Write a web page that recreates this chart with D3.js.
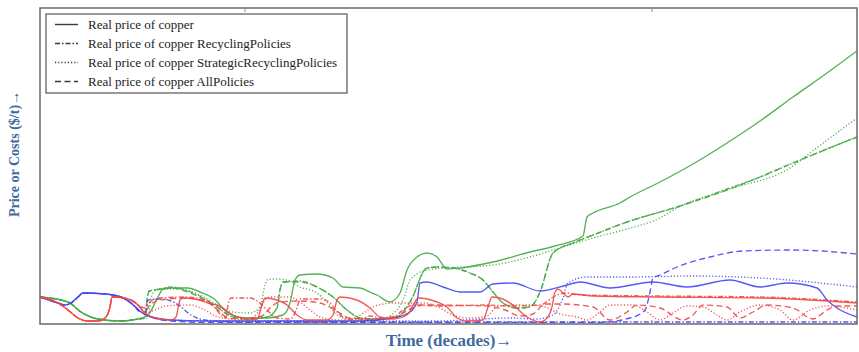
<!DOCTYPE html>
<html>
<head>
<meta charset="utf-8">
<script src="https://cdn.jsdelivr.net/npm/d3@7"></script>
<style>
  html, body { margin: 0; padding: 0; background: #fff; }
  svg { display: block; }
</style>
</head>
<body>
<svg id="chart" width="859" height="352"></svg>
<script>
// Time in years from start of run, price in k$/t (unlabelled axes)
const seriesNames = [
  "Real price of copper",
  "Real price of copper RecyclingPolicies",
  "Real price of copper StrategicRecyclingPolicies",
  "Real price of copper AllPolicies"
];
const xTicks = [51.25, 153];

// ---- green: copper price ----
const greenStart = [[0,13.5],[7,11],[10.25,6],[14.5,2.5],[20.25,1.5],[24.5,2.5]];
const greenBase = [[0,13.5],[7,11],[10.25,6],[14.5,2.5],[20.25,1.5],[24.5,2.5],[27,4.5],[29.5,13.5],[30.75,17.5],[32.75,18],[37,18],[40,16],[43.25,13],[46.75,6],[49.25,3.5],[52.5,3],[56.75,3],[60.75,4.5],[62.5,10.5],[63.75,22],[65,24.5],[69.25,25],[73.25,23],[75.75,18.5],[80,18],[82.5,16],[84.25,14.5],[87.5,11],[90,15.5],[91.75,27],[94.25,33.5],[96.75,35.5],[99.25,33.5],[101.75,27.5],[105,28],[113.25,31],[122.5,36],[128.75,39],[135.75,44],[136.75,53.5],[138.25,55.5],[145,60.5],[147.5,63.5],[155,71],[163.25,80],[171.75,90.5],[180,101.5],[188.25,113.5],[196.75,125.5],[204.25,136.5]];
const greenAllTail = [[26.25,3],[26.75,12],[27.25,16],[30,17.5],[32.75,18],[37,16],[41.25,12],[44.25,8.5],[48.25,3.5],[52.5,2.5],[56.75,3.5],[59.25,8],[60,17],[60.75,21],[65,21],[69.25,18.5],[73.25,13.5],[76.75,7],[80,3],[82.5,2.5],[88.75,3],[92.5,11],[96.75,28],[99.25,28.5],[103.25,28],[107.5,25.5],[110.75,22],[113.25,16],[115.75,10.5],[119.25,8],[122.5,8.5],[125,16],[128.25,35.5],[133.25,40.5],[138.25,44.5],[146.75,51],[159.25,58.5],[171.75,67],[180,73.5],[188.25,80.5],[196.75,87.5],[204.25,93.5]];
const greenRecyclingTail = [[26.25,3],[26.75,12.5],[27.25,16.5],[30,17.5],[32.75,18.5],[37,16.5],[41.25,12.5],[44.25,8.5],[48.25,3.5],[52.5,2.5],[56.75,3.5],[59.25,8],[60,17],[60.75,21],[65,21.5],[69.25,18.5],[73.25,13.5],[76.75,7],[80,3],[82.5,2.5],[88.75,3],[92.5,11],[96.75,28],[99.25,28.5],[103.25,28],[107.5,25.5],[110.75,22],[113.25,16],[115.75,10.5],[119.25,8],[122.5,8.5],[125,16],[128.25,35.5],[133.25,40.5],[138.25,44.5],[146.75,51],[159.25,58.5],[171.75,67.5],[180,73.5],[188.25,80.5],[196.75,87.5],[204.25,93.5]];
const greenStrategicTail = [[26.75,3],[28,14.5],[29,17],[33.75,17.5],[40,14.5],[44.25,9.5],[48.25,6],[52.5,5.5],[55,8.5],[56.25,19.5],[56.75,22],[58.25,22.5],[61.75,22],[65,18.5],[69.25,15.5],[71.75,11],[74.25,4.5],[77.5,2.5],[85,2.5],[88.75,6],[91.25,14.5],[92.5,22],[96.75,27],[101.75,28],[113.25,29.5],[122.5,33.5],[128.25,37],[138.25,43],[146.75,47.5],[155,53],[159.25,58],[171.75,67],[188.25,79],[192.5,85.5],[204.25,103]];

// ---- blue ----
const blueStart = [[0,13.5],[4.5,10.5],[6.25,9.5],[7.75,10.5],[9.5,13.5],[10.75,15.5],[16.25,15],[20.25,13.5],[22.75,10.5],[25.25,6]];
const blueBaseTail = [[27.75,3.5],[32.75,2],[41.25,1.5],[80,1.5],[88.25,3],[92.5,6],[94.25,11],[95,20.5],[96.75,21],[100.75,18.5],[105,16],[110,16],[113.25,20],[118.25,20.5],[125,16.5],[131.75,19.5],[135,21],[142.5,18],[153.25,21],[161.75,18.5],[172.5,22],[180,18.5],[186.75,20.5],[194.25,18],[196.75,12],[199.25,8],[204.25,3.5]];
const blueRecyclingTail = [[26.5,6.5],[27,12],[30,12.5],[32.75,11.5],[35,9],[37,5.5],[41.25,2],[50,1],[120,1],[160,1],[204.25,1]];
const blueStrategicTail = [[27.75,3.5],[32.75,2],[41.25,1.5],[100,1.5],[110,2.5],[118,3],[124,2.5],[128.25,4.5],[130.75,13],[132,20.5],[136.75,23.5],[146.75,23.5],[163.25,24],[180,23],[204.25,18.5]];
const blueAllTail = [[27.75,3.5],[32.75,1.5],[41.25,0.8],[140,0.8],[147.5,3],[151.25,7],[152.5,16],[153.25,23],[155,24.5],[159.25,28.5],[167.5,33.5],[175.75,36.5],[188.25,37],[204.25,35]];

// ---- red ----
const redStart = [[0,13.5],[4.5,10.5],[7,7],[9.5,3],[12,1.5],[14.5,1.5],[16.25,3],[17.5,8.5],[18,13.5],[18.75,13.5],[22.75,12],[24.5,9.5]];
const redBaseTail = [[26.25,5.5],[28.75,3],[32.75,2],[34,3.5],[35,12],[35.75,13],[38.75,12.5],[42,10.5],[44.25,9.5],[48.25,4.5],[52.5,2.5],[54.25,2.5],[55.5,9.5],[56.25,13],[59.25,12],[61.75,9.5],[64.25,4.5],[66.75,2],[71.75,2],[73.25,4.5],[74.25,12],[75,13.5],[79.25,12],[82.5,8],[85,3.5],[88.25,2.5],[91.75,4.5],[93.75,11],[94.5,13],[99.25,11],[101.75,8.5],[104.25,3],[106.75,1.5],[110.75,2],[112,8.5],[113,13.5],[115,13],[118.25,9.5],[121.75,3.5],[125,1],[126.75,3],[128,8.5],[128.75,16],[129.5,17.5],[130.75,15.5],[132,13.5],[133.25,15],[138.25,14],[155,13.5],[180,13],[204.25,10.5]];
const redRecyclingTail = [[26.25,8],[27.5,11],[30,13],[36.25,13.5],[41.25,12],[43.75,8],[45.5,4],[46.5,3],[47,9.5],[47.75,13],[52.5,13],[55,10.5],[56.75,7],[59.25,3],[62.5,2.5],[64.25,8],[65,12.5],[70,12.5],[72.5,10.5],[74.25,6],[76.25,3],[80,2],[82.5,4],[85,3],[88.75,4],[91.25,8],[93.75,9.5],[100,9],[111.75,9.5],[117.5,9],[125,9.5],[128.75,14],[131.25,15.5],[135,14.5],[155,14],[180,13.5],[204.25,11]];
const redStrategicTail = [[26.25,5.5],[28.75,7],[31.25,9],[37.5,9.5],[41.25,7],[43.75,4],[47.5,2.5],[52.5,2],[54.5,6],[56.25,12],[57.5,13.5],[62.5,13.5],[65,11],[67.5,7],[70,3.5],[75,2],[78.75,3],[81.25,6],[83.75,9],[88.75,10.5],[96.25,10.5],[100,8],[103.75,4],[107.5,3],[111.75,4],[114.25,8.5],[117.5,9.5],[122.5,9.5],[126.25,8.5],[130,5],[134.25,3.5],[136.75,2],[140,6],[142.5,9.5],[148.25,9.5],[151.75,6],[155,2],[158.25,5.5],[161.75,9],[165.75,8.5],[169.25,4.5],[171.75,2],[175,6],[180,9.5],[185,7],[188.25,2],[192.5,7],[196.75,9],[204.25,7]];
const redAllTail = [[26.25,6.5],[27.5,9.5],[30,12],[36.25,13],[41.25,11.5],[44.5,7],[47,3],[50,2.5],[52.5,3],[55.5,4],[58,9],[60,11],[65,11.5],[70,10.5],[73.75,7],[77.5,3],[83.75,2.5],[88.75,3.5],[92.5,7.5],[96.25,9.5],[111.75,9],[116.25,7],[120,4],[123.25,5],[126.25,10],[130,10],[138.25,8.5],[142.5,2],[146.75,6],[149.25,9.5],[155,8],[160.75,2],[163.25,4.5],[165.75,9.5],[171.75,8.5],[175,3],[178.25,6],[181.75,9.5],[188.25,8],[193.25,2.5],[196.75,7],[199.25,9],[204.25,9]];

const colors = { green: "#45a845", blue: "#4646f2", red: "#f24646" };
const dashes = ["none", "5,2,1.5,2", "1.2,2", "6,3.5"];

const lines = [
  { color: colors.green, style: 0, data: greenBase },
  { color: colors.green, style: 1, data: greenStart.concat(greenRecyclingTail) },
  { color: colors.green, style: 2, data: greenStart.concat(greenStrategicTail) },
  { color: colors.green, style: 3, data: greenStart.concat(greenAllTail) },
  { color: colors.blue, style: 0, data: blueStart.concat(blueBaseTail) },
  { color: colors.blue, style: 1, data: blueStart.concat(blueRecyclingTail) },
  { color: colors.blue, style: 2, data: blueStart.concat(blueStrategicTail) },
  { color: colors.blue, style: 3, data: blueStart.concat(blueAllTail) },
  { color: colors.red, style: 0, data: redStart.concat(redBaseTail) },
  { color: colors.red, style: 1, data: redStart.concat(redRecyclingTail) },
  { color: colors.red, style: 2, data: redStart.concat(redStrategicTail) },
  { color: colors.red, style: 3, data: redStart.concat(redAllTail) }
];

const svg = d3.select("#chart");
const box = { left: 40, right: 857, top: 8, bottom: 324 };

const x = d3.scaleLinear().domain([0, 204.25]).range([box.left, box.right]);
const y = d3.scaleLinear().domain([0, 158]).range([box.bottom, box.top]);

svg.append("clipPath").attr("id", "plotclip")
  .append("rect").attr("x", box.left).attr("y", box.top)
  .attr("width", box.right - box.left).attr("height", box.bottom - box.top);

const line = d3.line()
  .x(d => x(d[0]))
  .y(d => y(d[1]))
  .curve(d3.curveMonotoneX);

const plot = svg.append("g").attr("clip-path", "url(#plotclip)");
plot.selectAll("path.series")
  .data(lines)
  .join("path")
  .attr("class", "series")
  .attr("d", d => line(d.data))
  .attr("fill", "none")
  .attr("stroke", d => d.color)
  .attr("stroke-width", 1.35)
  .attr("stroke-opacity", 0.9)
  .attr("stroke-dasharray", d => dashes[d.style]);

// frame
svg.append("rect")
  .attr("x", box.left).attr("y", box.top)
  .attr("width", box.right - box.left).attr("height", box.bottom - box.top)
  .attr("fill", "none").attr("stroke", "#6a6a6a").attr("stroke-width", 1.5);

// minor tick marks on the x axis (top and bottom, pointing inward)
const ticks = svg.append("g");
ticks.selectAll("line.tb").data(xTicks).join("line").attr("class", "tb")
  .attr("x1", d => x(d)).attr("x2", d => x(d))
  .attr("y1", box.bottom).attr("y2", box.bottom - 4)
  .attr("stroke", "#888").attr("stroke-width", 1);
ticks.selectAll("line.tt").data(xTicks).join("line").attr("class", "tt")
  .attr("x1", d => x(d)).attr("x2", d => x(d))
  .attr("y1", box.top).attr("y2", box.top + 4)
  .attr("stroke", "#888").attr("stroke-width", 1);

// legend
const legend = svg.append("g");
legend.append("rect")
  .attr("x", 46).attr("y", 14).attr("width", 301).attr("height", 79)
  .attr("fill", "#fff").attr("stroke", "#555").attr("stroke-width", 1.2);
const rowY = i => 24.5 + i * 19;
legend.selectAll("line.key").data(seriesNames).join("line").attr("class", "key")
  .attr("x1", 55).attr("x2", 78)
  .attr("y1", (d, i) => rowY(i)).attr("y2", (d, i) => rowY(i))
  .attr("stroke", "#3a3a3a").attr("stroke-width", 1.4)
  .attr("stroke-dasharray", (d, i) => dashes[i]);
legend.selectAll("text").data(seriesNames).join("text")
  .attr("x", 88).attr("y", (d, i) => rowY(i) + 4.5)
  .attr("font-family", "Liberation Serif, Times New Roman, serif")
  .attr("font-size", 13)
  .attr("fill", "#222")
  .text(d => d);

// axis titles
const titleColor = "#42699d";
svg.append("text")
  .attr("x", 449).attr("y", 346)
  .attr("text-anchor", "middle")
  .attr("font-family", "Liberation Serif, serif")
  .attr("font-weight", "bold")
  .attr("font-size", 17)
  .attr("fill", titleColor)
  .text("Time (decades)→");
svg.append("text")
  .attr("transform", "translate(19,154) rotate(-90)")
  .attr("text-anchor", "middle")
  .attr("font-family", "Liberation Serif, serif")
  .attr("font-weight", "bold")
  .attr("font-size", 14)
  .attr("fill", titleColor)
  .text("Price or Costs ($/t)→");
</script>
</body>
</html>
